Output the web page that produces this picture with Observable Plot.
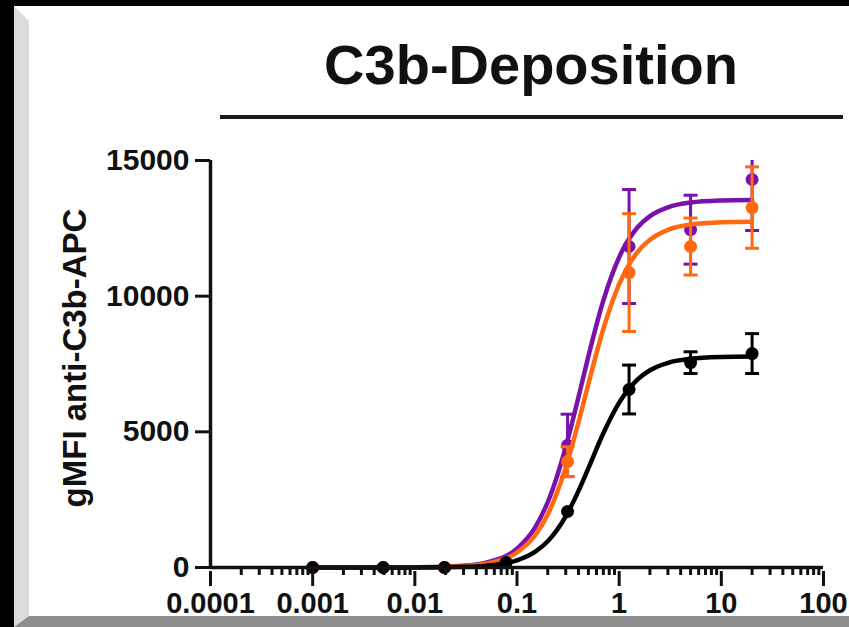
<!DOCTYPE html>
<html>
<head>
<meta charset="utf-8">
<script src="https://cdn.jsdelivr.net/npm/d3@7"></script>
<script src="https://cdn.jsdelivr.net/npm/@observablehq/plot@0.6"></script>
<style>
  html, body { margin: 0; padding: 0; }
  body { background: #000; width: 849px; height: 627px; overflow: hidden; position: relative;
         font-family: "Liberation Sans", Arial, Helvetica, sans-serif; }
  .abs { position: absolute; }
</style>
</head>
<body>
<div class="abs" style="left:14px;top:6px;right:0;bottom:0;background:#fff"></div>
<div id="chart" class="abs" style="left:0;top:0"></div>
<div id="title" class="abs" style="left:231px;top:37px;width:600px;text-align:center;font-size:56px;line-height:56px;font-weight:bold;color:#111">C3b-Deposition</div>
<div class="abs" style="left:220px;top:115px;width:623px;height:4px;background:#1a1a1a"></div>
<div id="ylabel" class="abs" style="left:-125px;top:341px;width:400px;line-height:34px;text-align:center;font-size:33px;font-weight:bold;color:#111;transform:rotate(-90deg);transform-origin:50% 50%;white-space:nowrap">gMFI anti-C3b-APC</div>
<div class="abs" style="left:14px;top:6px;width:15px;height:621px;background:#dcdcdc;clip-path:polygon(0 0,15px 15px,15px 610px,0 621px)"></div>
<div class="abs" style="left:14px;top:616px;width:835px;height:11px;background:#8e8e8e;clip-path:polygon(15px 0,100% 0,100% 100%,0 100%)"></div>
<script>
// ---- data ----
const conc = [0.001, 0.0049, 0.0195, 0.078, 0.3125, 1.25, 5, 20];

const purpleMean = [0, 0, 0, 200, 4500, 11830, 12450, 14300];
const purpleSD   = [0, 0, 0, 0, 1150, 2100, 1270, 1880];
const orangeMean = [0, 0, 0, 200, 3900, 10870, 11830, 13265];
const orangeSD   = [0, 0, 0, 0, 550, 2170, 1050, 1500];
const blackMean  = [0, 0, 0, 180, 2063, 6560, 7550, 7885];
const blackSD    = [0, 0, 0, 0, 0, 900, 400, 735];

// fitted curves
const curveX    = [0.001, 0.01, 0.03, 0.05, 0.1, 0.15, 0.2, 0.3, 0.4, 0.5, 0.7, 1, 1.5, 2, 3, 5, 10, 20];
const purpleFit = [0, 7, 66, 181, 695, 1470, 2410, 4440, 6285, 7790, 9840, 11435, 12520, 12950, 13275, 13450, 13525, 13545];
const orangeFit = [0, 6, 52, 143, 552, 1178, 1955, 3690, 5355, 6770, 8790, 10440, 11610, 12080, 12445, 12640, 12720, 12740];
const blackFit  = [0, 3, 25, 69, 267, 577, 970, 1888, 2823, 3663, 4946, 6074, 6917, 7270, 7545, 7694, 7758, 7775];

const seriesNames  = ["purple", "orange", "black"];
const seriesColors = ["#7a12aa", "#ff6a10", "#000000"];

const xMajor  = [0.0001, 0.001, 0.01, 0.1, 1, 10, 100];
const xLabels = ["0.0001", "0.001", "0.01", "0.1", "1", "10", "100"];
const xMinor  = [];
for (let i = 0; i < xMajor.length - 1; i++) for (let k = 2; k <= 9; k++) xMinor.push(+(xMajor[i] * k).toPrecision(3));
const yTicks  = [0, 5000, 10000, 15000];
const yLabels = ["0", "5000", "10000", "15000"];

// ---- tables ----
const means = [purpleMean, orangeMean, blackMean];
const sds   = [purpleSD, orangeSD, blackSD];
const fits  = [purpleFit, orangeFit, blackFit];

const capSymbol = {
  draw(ctx, size) {
    const w = Math.sqrt(size / Math.PI);
    ctx.moveTo(-w, 0);
    ctx.lineTo(w, 0);
  }
};

const marks = [];
seriesNames.forEach((name, s) => {
  const color = seriesColors[s];
  const curve = curveX.map((x, i) => ({x, y: fits[s][i]}));
  const pts = conc.map((x, i) => ({x, y: means[s][i], sd: sds[s][i]}));
  const err = pts.filter(d => d.sd > 0).map(d => ({x: d.x, lo: d.y - d.sd, hi: d.y + d.sd}));
  marks.push(Plot.line(curve, {x: "x", y: "y", stroke: color, strokeWidth: 4.5, curve: "monotone-x"}));
  marks.push(Plot.ruleX(err, {x: "x", y1: "lo", y2: "hi", stroke: color, strokeWidth: 3, clip: true}));
  marks.push(Plot.dot(err, {x: "x", y: "hi", symbol: capSymbol, r: 7, stroke: color, strokeWidth: 3, clip: true}));
  marks.push(Plot.dot(err, {x: "x", y: "lo", symbol: capSymbol, r: 7, stroke: color, strokeWidth: 3, clip: true}));
  marks.push(Plot.dot(pts, {x: "x", y: "y", r: 6.5, fill: color, stroke: null}));
});

const xLab = new Map(xMajor.map((v, i) => [v, xLabels[i]]));
const yLab = new Map(yTicks.map((v, i) => [v, yLabels[i]]));

const chart = Plot.plot({
  width: 849,
  height: 627,
  marginLeft: 210,
  marginRight: 26,
  marginTop: 160,
  marginBottom: 60,
  style: {background: "transparent", fontFamily: "'Liberation Sans', Arial, sans-serif", color: "#111", overflow: "visible"},
  x: {type: "log", domain: [xMajor[0], xMajor[xMajor.length - 1]], axis: null},
  y: {domain: [yTicks[0], yTicks[yTicks.length - 1]], axis: null},
  marks: [
    ...marks,
    Plot.ruleY([yTicks[0]], {stroke: "#111", strokeWidth: 3.5}),
    Plot.ruleX([xMajor[0]], {stroke: "#111", strokeWidth: 3.5}),
    Plot.axisX({ticks: xMinor, tickSize: 8, tickFormat: () => "", strokeWidth: 3, stroke: "#111", label: null}),
    Plot.axisX({ticks: xMajor, tickSize: 15, tickPadding: 6, dy: 4, tickFormat: d => xLab.get(d), strokeWidth: 3, stroke: "#111",
                fontSize: 29, fontWeight: "bold", fill: "#111", label: null}),
    Plot.axisY({ticks: yTicks, tickSize: 15, tickPadding: 6, tickFormat: d => yLab.get(d), strokeWidth: 3, stroke: "#111",
                fontSize: 30, fontWeight: "bold", fill: "#111", label: null})
  ]
});
document.getElementById("chart").appendChild(chart);
</script>
</body>
</html>
